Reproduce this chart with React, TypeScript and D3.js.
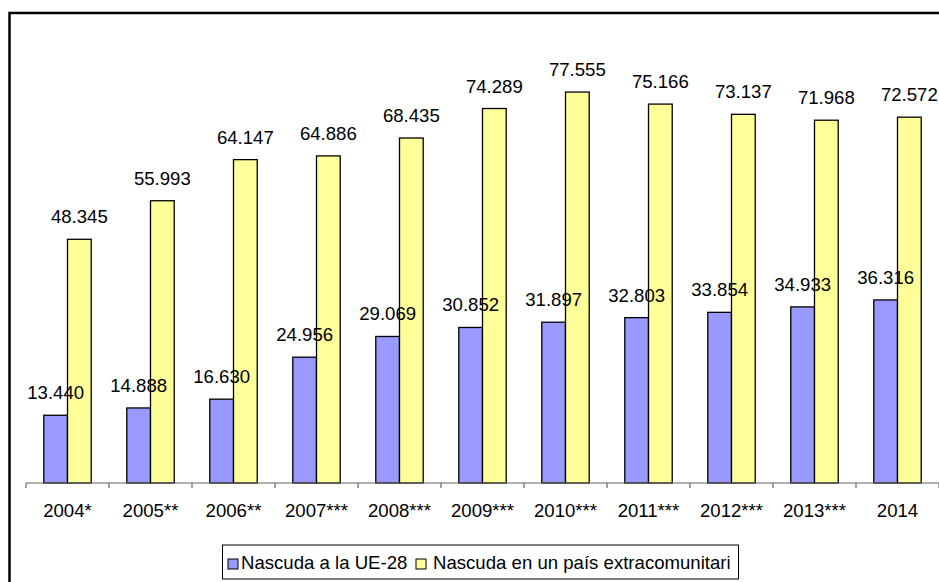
import * as d3 from "d3";

const years = [
  "2004*",
  "2005**",
  "2006**",
  "2007***",
  "2008***",
  "2009***",
  "2010***",
  "2011***",
  "2012***",
  "2013***",
  "2014",
];
const seriesNames = ["Nascuda a la UE-28", "Nascuda en un país extracomunitari"];
const bornEU = [13440, 14888, 16630, 24956, 29069, 30852, 31897, 32803, 33854, 34933, 36316];
const bornNonEU = [48345, 55993, 64147, 64886, 68435, 74289, 77555, 75166, 73137, 71968, 72572];
const colors = ["#9999FF", "#FFFF99"];

const W = 939;
const H = 582;
const font = "'Liberation Sans', Arial, Helvetica, sans-serif";
const fs = 18.6;

const locale = d3.formatLocale({
  decimal: ",",
  thousands: ".",
  grouping: [3],
  currency: ["", " €"],
});
const fmt = locale.format(",d");

function App() {
  const axisY = 483;
  const x0 = d3.scaleBand<string>().domain(years).range([26, 939]).padding(0);
  const x1 = d3
    .scaleBand<number>()
    .domain([0, 1])
    .range([0, x0.bandwidth()])
    .paddingInner(0)
    .paddingOuter(0.75);
  const y = d3.scaleLinear().domain([0, 90000]).range([axisY, axisY - 90000 * 0.005041]);

  const series = [bornEU, bornNonEU];

  // tick positions at category boundaries
  const ticks = years.map((yr) => x0(yr) as number).concat([x0.range()[1]]);

  // legend layout
  const legend = [
    { sx: 228, tx: 241 },
    { sx: 416, tx: 433 },
  ];

  const barX = (si: number, i: number) => (x0(years[i]) as number) + (x1(si) as number);

  return (
    <div style={{ position: "absolute", left: 0, top: 0 }}>
      <svg width={W} height={H} style={{ display: "block", background: "#fff" }}>
        <rect x={9.5} y={13} width={W + 10} height={H + 10} fill="#fff" stroke="#000" strokeWidth={2.5} />

        {series.map((vals, si) =>
          vals.map((v, i) => (
            <rect
              key={`b${si}-${i}`}
              x={barX(si, i)}
              y={y(v)}
              width={x1.bandwidth()}
              height={axisY - y(v)}
              fill={colors[si]}
              stroke="#000"
              strokeWidth={1.3}
            />
          ))
        )}

        <line x1={26} x2={W} y1={axisY} y2={axisY} stroke="#666" strokeWidth={1.2} />
        {ticks.map((t, i) => (
          <line key={i} x1={t} x2={t} y1={axisY} y2={axisY + 5} stroke="#666" strokeWidth={1.2} />
        ))}

        {series.map((vals, si) =>
          vals.map((v, i) => (
            <text
              key={`l${si}-${i}`}
              x={barX(si, i) + x1.bandwidth() / 2}
              y={y(v) - 16}
              textAnchor="middle"
              fontFamily={font}
              fontSize={fs}
              fill="#000"
            >
              {fmt(v)}
            </text>
          ))
        )}

        {years.map((yr) => (
          <text
            key={yr}
            x={(x0(yr) as number) + x0.bandwidth() / 2}
            y={517}
            textAnchor="middle"
            fontFamily={font}
            fontSize={fs}
            fill="#000"
          >
            {yr}
          </text>
        ))}

        <rect x={222.5} y={545} width={516} height={34} fill="#fff" stroke="#000" strokeWidth={1} />
        {seriesNames.map((name, i) => (
          <g key={name}>
            <rect
              x={legend[i].sx}
              y={559}
              width={10}
              height={10}
              fill={colors[i]}
              stroke="#000"
              strokeWidth={1}
            />
            <text x={legend[i].tx} y={569} fontFamily={font} fontSize={fs} fill="#000">
              {name}
            </text>
          </g>
        ))}
      </svg>
    </div>
  );
}

export default App;
